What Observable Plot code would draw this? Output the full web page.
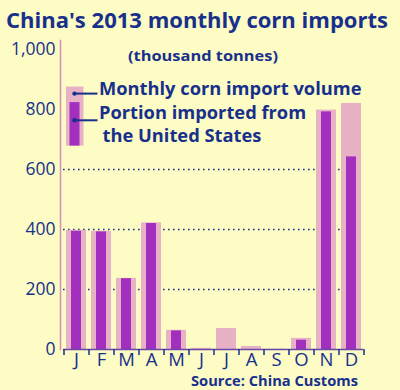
<!DOCTYPE html>
<html><head><meta charset="utf-8">
<script src="https://cdn.jsdelivr.net/npm/d3@7"></script>
<script src="https://cdn.jsdelivr.net/npm/@observablehq/plot@0.6"></script>
<style>
html,body{margin:0;padding:0;background:#fcfcc4;}
#chart svg{display:block;background:transparent;}
</style></head><body><div id="chart"></div>
<script>
const months = ["Jan","Feb","Mar","Apr","May","Jun","Jul","Aug","Sep","Oct","Nov","Dec"];
const monthLabels = ["J","F","M","A","M","J","J","A","S","O","N","D"];
const totalImports = [397, 394, 237, 422, 64, 4, 70, 10, 1, 37, 798, 820];
const usImports = [394, 392, 236, 420, 62, 0, 0, 0, 0, 31, 792, 642];
const yTicks = [0, 200, 400, 600, 800, 1000];
const gridValues = [200, 400, 600];
const legendLabels = ["Monthly corn import volume", "Portion imported from", "the United States"];
const titleText = "China's 2013 monthly corn imports";
const subtitleText = "(thousand tonnes)";
const sourceText = "Source: China Customs";

const navy = "#18308c", pink = "#e8b2c6", purple = "#a22fbe", axisPink = "#d48cb8";
const font = "'Open Sans', Lato, sans-serif";

const data = months.map((m, i) => ({month: m, total: totalImports[i], us: usImports[i]}));
const labelOf = new Map(months.map((m, i) => [m, monthLabels[i]]));

// legend key drawn in the first month's band, in value space
const legendKey = [{month: months[0], low: 678, total: 875, us: 823}];
const legendDots = [{month: months[0], y: 853}, {month: months[0], y: 764}];
const legendRowsA = [
  {month: months[0], y: 869, text: legendLabels[0]},
  {month: months[0], y: 789, text: legendLabels[1]}
];
const legendRowsB = [{month: months[0], y: 711, text: legendLabels[2]}];

const legendText = {x: "month", y: "y", text: "text", textAnchor: "start", fill: navy,
  fontSize: 18.3, fontWeight: "bold", fontFamily: font};

const chart = Plot.plot({
  width: 400, height: 390,
  marginLeft: 63, marginRight: 37, marginTop: 40, marginBottom: 41,
  style: {fontFamily: font, background: "transparent", overflow: "visible"},
  x: {domain: months, paddingInner: 0.2, paddingOuter: 0.1, label: null},
  y: {domain: [0, 1030], label: null},
  marks: [
    Plot.ruleY(gridValues, {stroke: navy, strokeWidth: 1.6, strokeDasharray: "1.6,3.4"}),
    Plot.barY(data, {x: "month", y: "total", fill: pink}),
    Plot.barY(data, {x: "month", y: "us", fill: purple, insetLeft: 5, insetRight: 5}),
    Plot.barY(legendKey, {x: "month", y1: "low", y2: "total", fill: pink, insetLeft: 0, insetRight: 2.5}),
    Plot.barY(legendKey, {x: "month", y1: "low", y2: "us", fill: purple, insetLeft: 3.5, insetRight: 6.5}),
    Plot.tickY(legendDots, {x: "month", y: "y", stroke: navy, strokeWidth: 2, insetLeft: 8}),
    Plot.tickY(legendDots, {x: "month", y: "y", stroke: navy, strokeWidth: 2, insetLeft: 8, dx: 11.5}),
    Plot.dot(legendDots, {x: "month", y: "y", r: 2.2, fill: navy, dx: -2}),
    Plot.text(legendRowsA, {...legendText, dx: 22.5}),
    Plot.text(legendRowsB, {...legendText, dx: 26}),
    Plot.ruleY([0], {stroke: "#6a48a8", strokeWidth: 1.5}),
    Plot.frame({anchor: "left", stroke: axisPink, strokeWidth: 1.5, dx: -3}),
    Plot.axisY(yTicks, {tickSize: 0, tickPadding: 8, tickFormat: d3.format(","), fontSize: 17.5,
      fill: navy, fontFamily: font, label: null}),
    Plot.axisX({tickSize: 0, tickPadding: 3, tickFormat: d => labelOf.get(d), fontSize: 18.5,
      fill: navy, fontFamily: font, label: null}),
    Plot.axisX({tickSize: 6, tickFormat: () => "", dx: -12.5, stroke: navy, strokeWidth: 1.5, label: null}),
    Plot.axisX([months[11]], {tickSize: 6, tickFormat: () => "", dx: 12.5, stroke: navy, strokeWidth: 1.5, label: null})
  ]
});

const svg = d3.select(chart);
function addText(x, y, txt, size, anchor, len) {
  const t = svg.append("text").attr("x", x).attr("y", y).attr("text-anchor", anchor).text(txt)
    .attr("fill", navy).attr("font-family", font).attr("font-weight", "bold").attr("font-size", size);
  if (len) t.attr("textLength", len).attr("lengthAdjust", "spacingAndGlyphs");
  return t;
}
addText(6, 28, titleText, 21, "start", 382);
addText(128, 61, subtitleText, 14.5, "start", 150);
addText(358, 386, sourceText, 14, "end", 167);

document.getElementById("chart").appendChild(chart);
</script></body></html>
